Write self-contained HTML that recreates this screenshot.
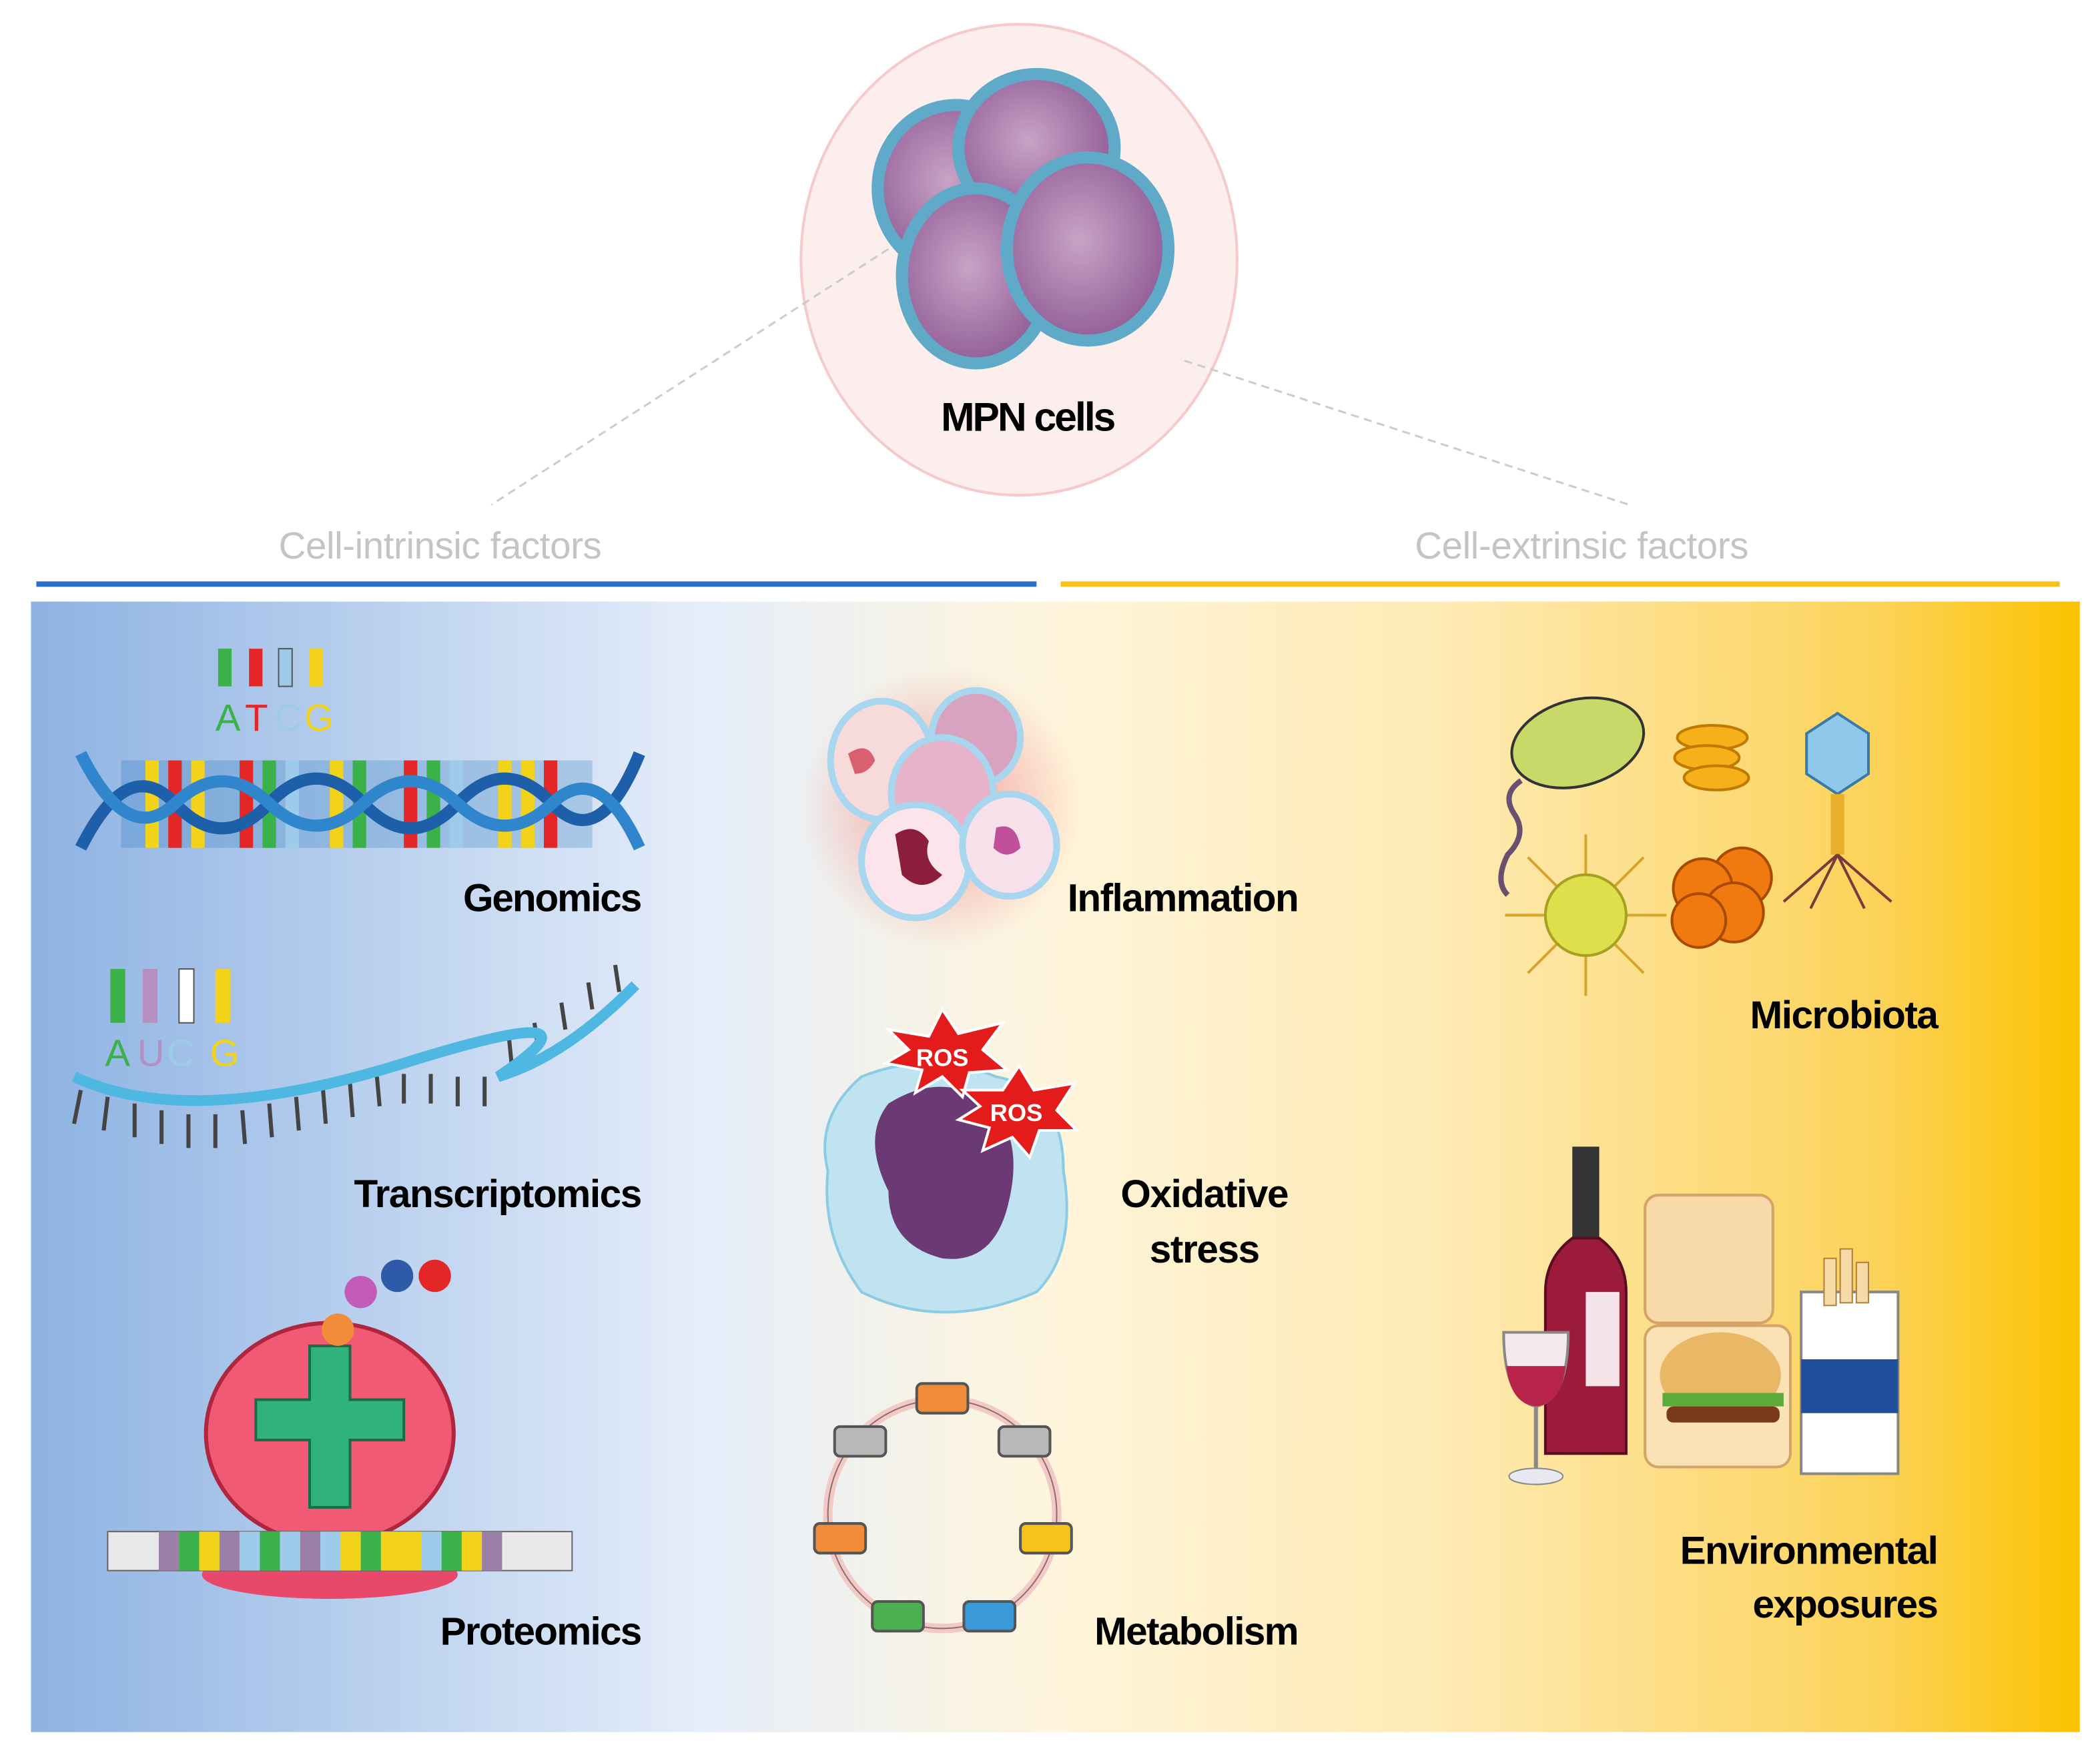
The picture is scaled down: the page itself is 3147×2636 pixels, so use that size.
<!DOCTYPE html>
<html><head><meta charset="utf-8"><style>html,body{margin:0;padding:0;background:#fff}svg{display:block}</style></head>
<body>
<svg width="3147" height="2636" viewBox="0 0 1560 1307" preserveAspectRatio="none" xmlns="http://www.w3.org/2000/svg" font-family="Liberation Sans, Arial, sans-serif">
<defs>
<linearGradient id="bg" x1="0" x2="1" y1="0" y2="0">
<stop offset="0" stop-color="#8db2e2"/>
<stop offset="0.33" stop-color="#e6eefa"/>
<stop offset="0.5" stop-color="#fff5dc"/>
<stop offset="0.7" stop-color="#fee9b0"/>
<stop offset="0.9" stop-color="#fcd35a"/>
<stop offset="1" stop-color="#fbc200"/>
</linearGradient>
<radialGradient id="cell" cx="0.45" cy="0.45" r="0.6">
<stop offset="0" stop-color="#c9a3c6"/><stop offset="1" stop-color="#8e5a94"/>
</radialGradient>
<radialGradient id="glow"><stop offset="0" stop-color="#f28a8a" stop-opacity="0.8"/><stop offset="1" stop-color="#f28a8a" stop-opacity="0"/></radialGradient>
</defs>
<rect width="1560" height="1307" fill="#fff"/>
<!-- top circle -->
<ellipse cx="757" cy="193" rx="162" ry="175" fill="#fdeeee" stroke="#f6caca" stroke-width="2"/>
<line x1="660" y1="185" x2="365" y2="375" stroke="#ccc" stroke-width="1.5" stroke-dasharray="6 4"/>
<line x1="880" y1="268" x2="1210" y2="375" stroke="#ccc" stroke-width="1.5" stroke-dasharray="6 4"/>
<g stroke="#5fa9c9" stroke-width="9">
<ellipse cx="710" cy="140" rx="58" ry="62" fill="url(#cell)"/>
<ellipse cx="770" cy="110" rx="58" ry="55" fill="url(#cell)"/>
<ellipse cx="725" cy="205" rx="55" ry="65" fill="url(#cell)"/>
<ellipse cx="808" cy="185" rx="60" ry="68" fill="url(#cell)"/>
</g>
<text x="764" y="320" font-size="30" font-weight="bold" text-anchor="middle" textLength="130">MPN cells</text>
<text x="327" y="415" font-size="28" fill="#c4c4c4" text-anchor="middle" textLength="240">Cell-intrinsic factors</text>
<text x="1175" y="415" font-size="28" fill="#c4c4c4" text-anchor="middle" textLength="248">Cell-extrinsic factors</text>
<rect x="27" y="432" width="743" height="4" fill="#2a6fc9"/>
<rect x="788" y="432" width="742" height="4" fill="#f7c21a"/>
<rect x="23" y="447" width="1522" height="840" fill="url(#bg)"/>
<!-- Genomics -->
<g font-size="28">
<text x="160" y="543" fill="#3bb14a">A</text><text x="182" y="543" fill="#e32727">T</text><text x="204" y="543" fill="#9ecbe9">C</text><text x="226" y="543" fill="#f3d21a">G</text>
</g>
<rect x="162" y="482" width="10" height="28" fill="#3bb14a"/><rect x="185" y="482" width="10" height="28" fill="#e32727"/><rect x="207" y="482" width="10" height="28" fill="#9ecbe9" stroke="#555"/><rect x="230" y="482" width="10" height="28" fill="#f3d21a"/>
<g>
<rect x="90" y="565" width="350" height="65" fill="#1e73b8" opacity="0.25"/>
<g stroke-width="1">
<rect x="108" y="565" width="10" height="65" fill="#f3d21a"/><rect x="125" y="565" width="10" height="65" fill="#e32727"/><rect x="142" y="565" width="10" height="65" fill="#f3d21a"/>
<rect x="178" y="565" width="10" height="65" fill="#e32727"/><rect x="195" y="565" width="10" height="65" fill="#3bb14a"/><rect x="212" y="565" width="10" height="65" fill="#9ecbe9"/>
<rect x="245" y="565" width="10" height="65" fill="#f3d21a"/><rect x="262" y="565" width="10" height="65" fill="#3bb14a"/>
<rect x="300" y="565" width="10" height="65" fill="#e32727"/><rect x="317" y="565" width="10" height="65" fill="#3bb14a"/><rect x="334" y="565" width="10" height="65" fill="#9ecbe9"/>
<rect x="370" y="565" width="10" height="65" fill="#f3d21a"/><rect x="387" y="565" width="10" height="65" fill="#f3d21a"/><rect x="404" y="565" width="10" height="65" fill="#e32727"/>
</g>
<path d="M60 630 Q95 560 130 597 T200 597 T270 597 T340 597 T410 597 T475 560" fill="none" stroke="#1d5fa8" stroke-width="9"/>
<path d="M60 560 Q95 630 130 597 T200 597 T270 597 T340 597 T410 597 T475 630" fill="none" stroke="#2f86cc" stroke-width="9"/>
</g>
<text x="477" y="677" font-size="29" font-weight="bold" text-anchor="end" textLength="133">Genomics</text>
<!-- Transcriptomics -->
<g font-size="28">
<text x="78" y="792" fill="#3bb14a">A</text><text x="102" y="792" fill="#b48fc0">U</text><text x="124" y="792" fill="#9ecbe9">C</text><text x="156" y="792" fill="#f3d21a">G</text>
</g>
<rect x="82" y="720" width="11" height="40" fill="#3bb14a"/><rect x="106" y="720" width="11" height="40" fill="#b48fc0"/><rect x="133" y="720" width="11" height="40" fill="#fff" stroke="#555"/><rect x="160" y="720" width="11" height="40" fill="#f3d21a"/>
<g stroke-width="3">
<path d="M60 810 l-5 25 M80 815 l-3 25 M100 820 l0 25 M120 825 l0 25 M140 828 l0 25 M160 828 l0 25 M180 825 l2 25 M200 820 l2 25 M220 815 l2 25 M240 810 l2 25 M260 805 l2 25 M280 800 l2 22 M300 798 l0 22 M320 798 l0 22 M340 800 l0 22 M360 800 l0 22 M380 790 l-2 -20 M400 780 l-3 -20 M420 765 l-3 -20 M440 750 l-3 -20 M460 737 l-3 -20" stroke="#444"/>
</g>
<path d="M55 800 Q140 840 300 790 T370 800 Q420 785 472 732" fill="none" stroke="#4fb8e2" stroke-width="8"/>
<text x="477" y="897" font-size="29" font-weight="bold" text-anchor="end" textLength="214">Transcriptomics</text>
<!-- Proteomics -->
<circle cx="268" cy="960" r="12" fill="#c35bb8"/><circle cx="295" cy="948" r="12" fill="#2e5aa8"/><circle cx="323" cy="948" r="12" fill="#e32727"/>
<ellipse cx="245" cy="1170" rx="95" ry="18" fill="#e8486a"/>
<ellipse cx="245" cy="1065" rx="92" ry="82" fill="#f05a74" stroke="#b0263e" stroke-width="3"/>
<path d="M230 1000 h30 v40 h40 v30 h-40 v50 h-30 v-50 h-40 v-30 h40z" fill="#2fb37a" stroke="#1a6b48" stroke-width="2"/>
<circle cx="251" cy="988" r="12" fill="#f08c3a"/>
<rect x="80" y="1138" width="345" height="29" fill="#e8e8e8" stroke="#666"/>
<g>
<rect x="118" y="1138" width="15" height="29" fill="#9a7fa8"/><rect x="133" y="1138" width="15" height="29" fill="#3bb14a"/><rect x="148" y="1138" width="15" height="29" fill="#f3d21a"/><rect x="163" y="1138" width="15" height="29" fill="#9a7fa8"/><rect x="178" y="1138" width="15" height="29" fill="#9ecbe9"/><rect x="193" y="1138" width="15" height="29" fill="#3bb14a"/><rect x="208" y="1138" width="15" height="29" fill="#9ecbe9"/><rect x="223" y="1138" width="15" height="29" fill="#9a7fa8"/><rect x="238" y="1138" width="15" height="29" fill="#9ecbe9"/><rect x="253" y="1138" width="15" height="29" fill="#f3d21a"/><rect x="268" y="1138" width="15" height="29" fill="#3bb14a"/><rect x="283" y="1138" width="15" height="29" fill="#f3d21a"/><rect x="298" y="1138" width="15" height="29" fill="#f3d21a"/><rect x="313" y="1138" width="15" height="29" fill="#9ecbe9"/><rect x="328" y="1138" width="15" height="29" fill="#3bb14a"/><rect x="343" y="1138" width="15" height="29" fill="#f3d21a"/><rect x="358" y="1138" width="15" height="29" fill="#9a7fa8"/>
</g>
<text x="477" y="1222" font-size="29" font-weight="bold" text-anchor="end" textLength="150">Proteomics</text>
<!-- Inflammation -->
<circle cx="700" cy="600" r="105" fill="url(#glow)"/>
<g stroke="#a8d6ef" stroke-width="5">
<ellipse cx="655" cy="565" rx="38" ry="44" fill="#f7dada"/>
<ellipse cx="725" cy="548" rx="33" ry="35" fill="#d7a3c0"/>
<ellipse cx="700" cy="590" rx="38" ry="42" fill="#e6b3c8"/>
<ellipse cx="680" cy="640" rx="40" ry="42" fill="#fbe4ea"/>
<ellipse cx="750" cy="628" rx="35" ry="38" fill="#f6e0ea"/>
</g>
<path d="M665 620 q15 -10 25 5 q-5 15 10 25 q-15 15 -30 0z" fill="#8b1e3f"/>
<path d="M740 615 q15 -5 18 15 q-10 10 -20 0z" fill="#c0509a"/>
<path d="M630 560 q15 -10 20 5 q-5 10 -15 10z" fill="#d96070"/>
<text x="965" y="677" font-size="29" font-weight="bold" text-anchor="end" textLength="172">Inflammation</text>
<!-- Oxidative stress -->
<path d="M640 800 q50 -20 100 0 q50 10 50 70 q10 60 -20 90 q-70 30 -130 0 q-30 -40 -25 -90 q-10 -40 25 -70z" fill="#bfe3f1" stroke="#8ccbe4" stroke-width="2"/>
<path d="M660 820 q40 -25 75 0 q25 25 15 70 q-10 50 -50 45 q-40 -10 -40 -50 q-20 -40 0 -65z" fill="#6b3a75"/>
<polygon points="660,765 690,770 700,750 712,768 745,760 730,780 748,795 720,797 715,815 700,800 680,812 685,795 658,790 675,780" fill="#e31b1b" stroke="#fff" stroke-width="2"/>
<text x="700" y="792" font-size="18" font-weight="bold" fill="#fff" text-anchor="middle">ROS</text>
<polygon points="715,810 745,810 757,792 768,810 798,805 785,825 800,840 772,840 765,860 752,845 730,855 735,838 712,832 728,822" fill="#e31b1b" stroke="#fff" stroke-width="2"/>
<text x="755" y="833" font-size="18" font-weight="bold" fill="#fff" text-anchor="middle">ROS</text>
<text x="895" y="897" font-size="29" font-weight="bold" text-anchor="middle" textLength="125">Oxidative</text>
<text x="895" y="938" font-size="29" font-weight="bold" text-anchor="middle" textLength="82">stress</text>
<!-- Metabolism -->
<circle cx="700" cy="1125" r="85" fill="none" stroke="#f3c9c5" stroke-width="7"/>
<circle cx="700" cy="1125" r="85" fill="none" stroke="#8b6f6f" stroke-width="1"/>
<g stroke="#555" stroke-width="2">
<rect x="681" y="1028" width="38" height="22" rx="4" fill="#f08c3a"/>
<rect x="620" y="1060" width="38" height="22" rx="4" fill="#b8b8b8"/>
<rect x="742" y="1060" width="38" height="22" rx="4" fill="#b8b8b8"/>
<rect x="605" y="1132" width="38" height="22" rx="4" fill="#f08c3a"/>
<rect x="758" y="1132" width="38" height="22" rx="4" fill="#f7c21a"/>
<rect x="648" y="1190" width="38" height="22" rx="4" fill="#4caf50"/>
<rect x="716" y="1190" width="38" height="22" rx="4" fill="#3a9ad9"/>
</g>
<text x="965" y="1222" font-size="29" font-weight="bold" text-anchor="end" textLength="152">Metabolism</text>
<!-- Microbiota -->
<path d="M1130 580 q-15 10 -5 25 q10 15 -5 30 q-10 20 0 30" fill="none" stroke="#6b4f6f" stroke-width="4"/>
<ellipse cx="1172" cy="552" rx="50" ry="32" transform="rotate(-15 1172 552)" fill="#c8d96a" stroke="#333" stroke-width="2"/>
<g fill="#f5b01a" stroke="#c07a00" stroke-width="2"><ellipse cx="1272" cy="548" rx="26" ry="9"/><ellipse cx="1268" cy="563" rx="24" ry="9"/><ellipse cx="1275" cy="578" rx="24" ry="9"/></g>
<polygon points="1365,530 1388,545 1388,575 1365,590 1342,575 1342,545" fill="#8fc8ea" stroke="#3a7aa8" stroke-width="2"/>
<rect x="1360" y="590" width="10" height="45" fill="#e8b02a"/>
<path d="M1365 635 l-40 35 M1365 635 l-20 40 M1365 635 l20 40 M1365 635 l40 35" stroke="#7a3a3a" stroke-width="2" fill="none"/>
<g stroke="#d8a42a" stroke-width="2"><path d="M1178 620 v120 M1118 680 h120 M1135 637 l86 86 M1221 637 l-86 86"/></g>
<circle cx="1178" cy="680" r="30" fill="#dde04a" stroke="#a8a020" stroke-width="2"/>
<g fill="#f07a10" stroke="#a84a00" stroke-width="2"><circle cx="1294" cy="652" r="22"/><circle cx="1265" cy="660" r="22"/><circle cx="1288" cy="678" r="22"/><circle cx="1262" cy="684" r="20"/></g>
<text x="1440" y="764" font-size="29" font-weight="bold" text-anchor="end" textLength="140">Microbiota</text>
<!-- Environmental -->
<rect x="1168" y="852" width="20" height="70" fill="#333"/>
<path d="M1168 920 q-20 15 -20 40 v120 h60 v-120 q0 -25 -20 -40z" fill="#9c1b3a" stroke="#5a0c20" stroke-width="2"/>
<rect x="1178" y="960" width="25" height="70" fill="#f3e3e6"/>
<path d="M1117 990 h48 q0 50 -24 55 q-24 -5 -24 -55z" fill="#f3e9ef" stroke="#888" stroke-width="2"/>
<path d="M1119 1015 h44 q-3 28 -22 30 q-19 -2 -22 -30z" fill="#b8244a"/>
<line x1="1141" y1="1045" x2="1141" y2="1095" stroke="#888" stroke-width="3"/><ellipse cx="1141" cy="1097" rx="20" ry="6" fill="#e8e8f0" stroke="#888"/>
<rect x="1222" y="888" width="95" height="95" rx="10" fill="#f8d9a8" stroke="#d2a36a" stroke-width="2"/>
<rect x="1222" y="985" width="108" height="105" rx="10" fill="#fbe2b5" stroke="#d2a36a" stroke-width="2"/>
<ellipse cx="1278" cy="1022" rx="45" ry="32" fill="#e9b866"/>
<rect x="1235" y="1035" width="90" height="10" fill="#5cab3a"/>
<rect x="1238" y="1045" width="84" height="12" rx="5" fill="#7a3a1a"/>
<rect x="1338" y="960" width="72" height="135" fill="#fff" stroke="#888" stroke-width="2"/>
<rect x="1338" y="1010" width="72" height="40" fill="#1f4f9a"/>
<g fill="#f7d9a8" stroke="#b08040"><rect x="1355" y="935" width="9" height="35"/><rect x="1367" y="928" width="9" height="40"/><rect x="1379" y="938" width="9" height="30"/></g>
<text x="1440" y="1162" font-size="29" font-weight="bold" text-anchor="end" textLength="192">Environmental</text>
<text x="1440" y="1202" font-size="29" font-weight="bold" text-anchor="end" textLength="138">exposures</text>
</svg>
</body></html>
